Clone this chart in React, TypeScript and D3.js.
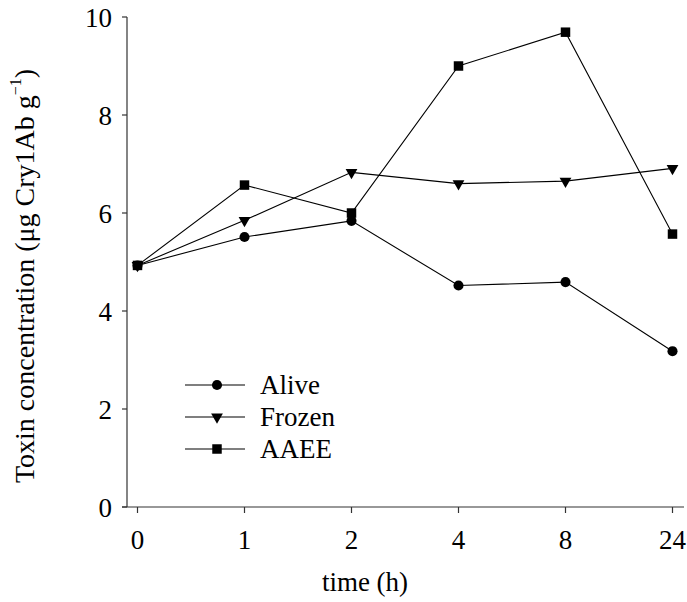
import * as d3 from 'd3'

const TIMES = ['0', '1', '2', '4', '8', '24']
const ALIVE = [4.93, 5.51, 5.84, 4.52, 4.59, 3.18]
const FROZEN = [4.93, 5.85, 6.83, 6.6, 6.65, 6.91]
const AAEE = [4.93, 6.57, 6.0, 9.0, 9.69, 5.57]
const Y_TICKS = [0, 2, 4, 6, 8, 10]

const SERIES = [
  { name: 'Alive', values: ALIVE, symbol: d3.symbolCircle, size: 80 },
  { name: 'Frozen', values: FROZEN, symbol: d3.symbolTriangle, size: 60, flip: true },
  { name: 'AAEE', values: AAEE, symbol: d3.symbolSquare, size: 90 },
]

const W = 687
const H = 602
const FONT = "'Liberation Serif', 'Times New Roman', serif"
const TXT = { fontFamily: FONT, fontSize: '27px' }

export default function App() {
  const x = d3.scalePoint<string>().domain(TIMES).range([137.5, 672.5])
  const y = d3.scaleLinear().domain([0, 10]).range([507, 17])
  const line = d3
    .line<number>()
    .x((_, i) => x(TIMES[i]) as number)
    .y((d) => y(d))

  const marker = (s, cx, cy) => (
    <path
      d={d3.symbol().type(s.symbol).size(s.size)() as string}
      transform={`translate(${cx},${cy})${s.flip ? ' rotate(180)' : ''}`}
      fill="#000"
    />
  )

  return (
    <div style={{ position: 'absolute', left: 0, top: 0 }}>
      <svg width={W} height={H} style={{ display: 'block' }}>
        {/* axes */}
        <line x1={127} x2={127} y1={y(10)} y2={y(0)} stroke="#333" strokeWidth={1.2} />
        <line x1={122} x2={684} y1={y(0)} y2={y(0)} stroke="#333" strokeWidth={1.2} />
        {Y_TICKS.map((t) => (
          <g key={t}>
            <line x1={122} x2={127} y1={y(t)} y2={y(t)} stroke="#333" strokeWidth={1.2} />
            <text x={112} y={y(t) + 1} textAnchor="end" dominantBaseline="central" style={TXT}>
              {t}
            </text>
          </g>
        ))}
        {TIMES.map((t) => (
          <g key={t}>
            <line x1={x(t)} x2={x(t)} y1={y(0)} y2={y(0) + 6} stroke="#333" strokeWidth={1.2} />
            <text x={x(t)} y={540} textAnchor="middle" dominantBaseline="central" style={TXT}>
              {t}
            </text>
          </g>
        ))}
        <text x={365} y={582} textAnchor="middle" dominantBaseline="central" style={TXT}>
          time (h)
        </text>
        <text
          transform="translate(24,276) rotate(-90)"
          textAnchor="middle"
          dominantBaseline="central"
          style={{ fontFamily: FONT, fontSize: '28px' }}
        >
          Toxin concentration (μg Cry1Ab g<tspan dy={-9} style={{ fontSize: '16px' }}>−1</tspan>
          <tspan dy={9}>)</tspan>
        </text>

        {/* series */}
        {SERIES.map((s) => (
          <g key={s.name}>
            <path d={line(s.values) as string} fill="none" stroke="#000" strokeWidth={1.1} />
            {s.values.map((v, i) => (
              <g key={i}>{marker(s, x(TIMES[i]), y(v))}</g>
            ))}
          </g>
        ))}

        {/* legend */}
        {SERIES.map((s, i) => {
          const ly = 385 + i * 32
          return (
            <g key={s.name}>
              <line x1={185} x2={245} y1={ly} y2={ly} stroke="#000" strokeWidth={1.1} />
              {marker(s, 217, ly)}
              <text x={260} y={ly} dominantBaseline="central" style={TXT}>
                {s.name}
              </text>
            </g>
          )
        })}
      </svg>
    </div>
  )
}
